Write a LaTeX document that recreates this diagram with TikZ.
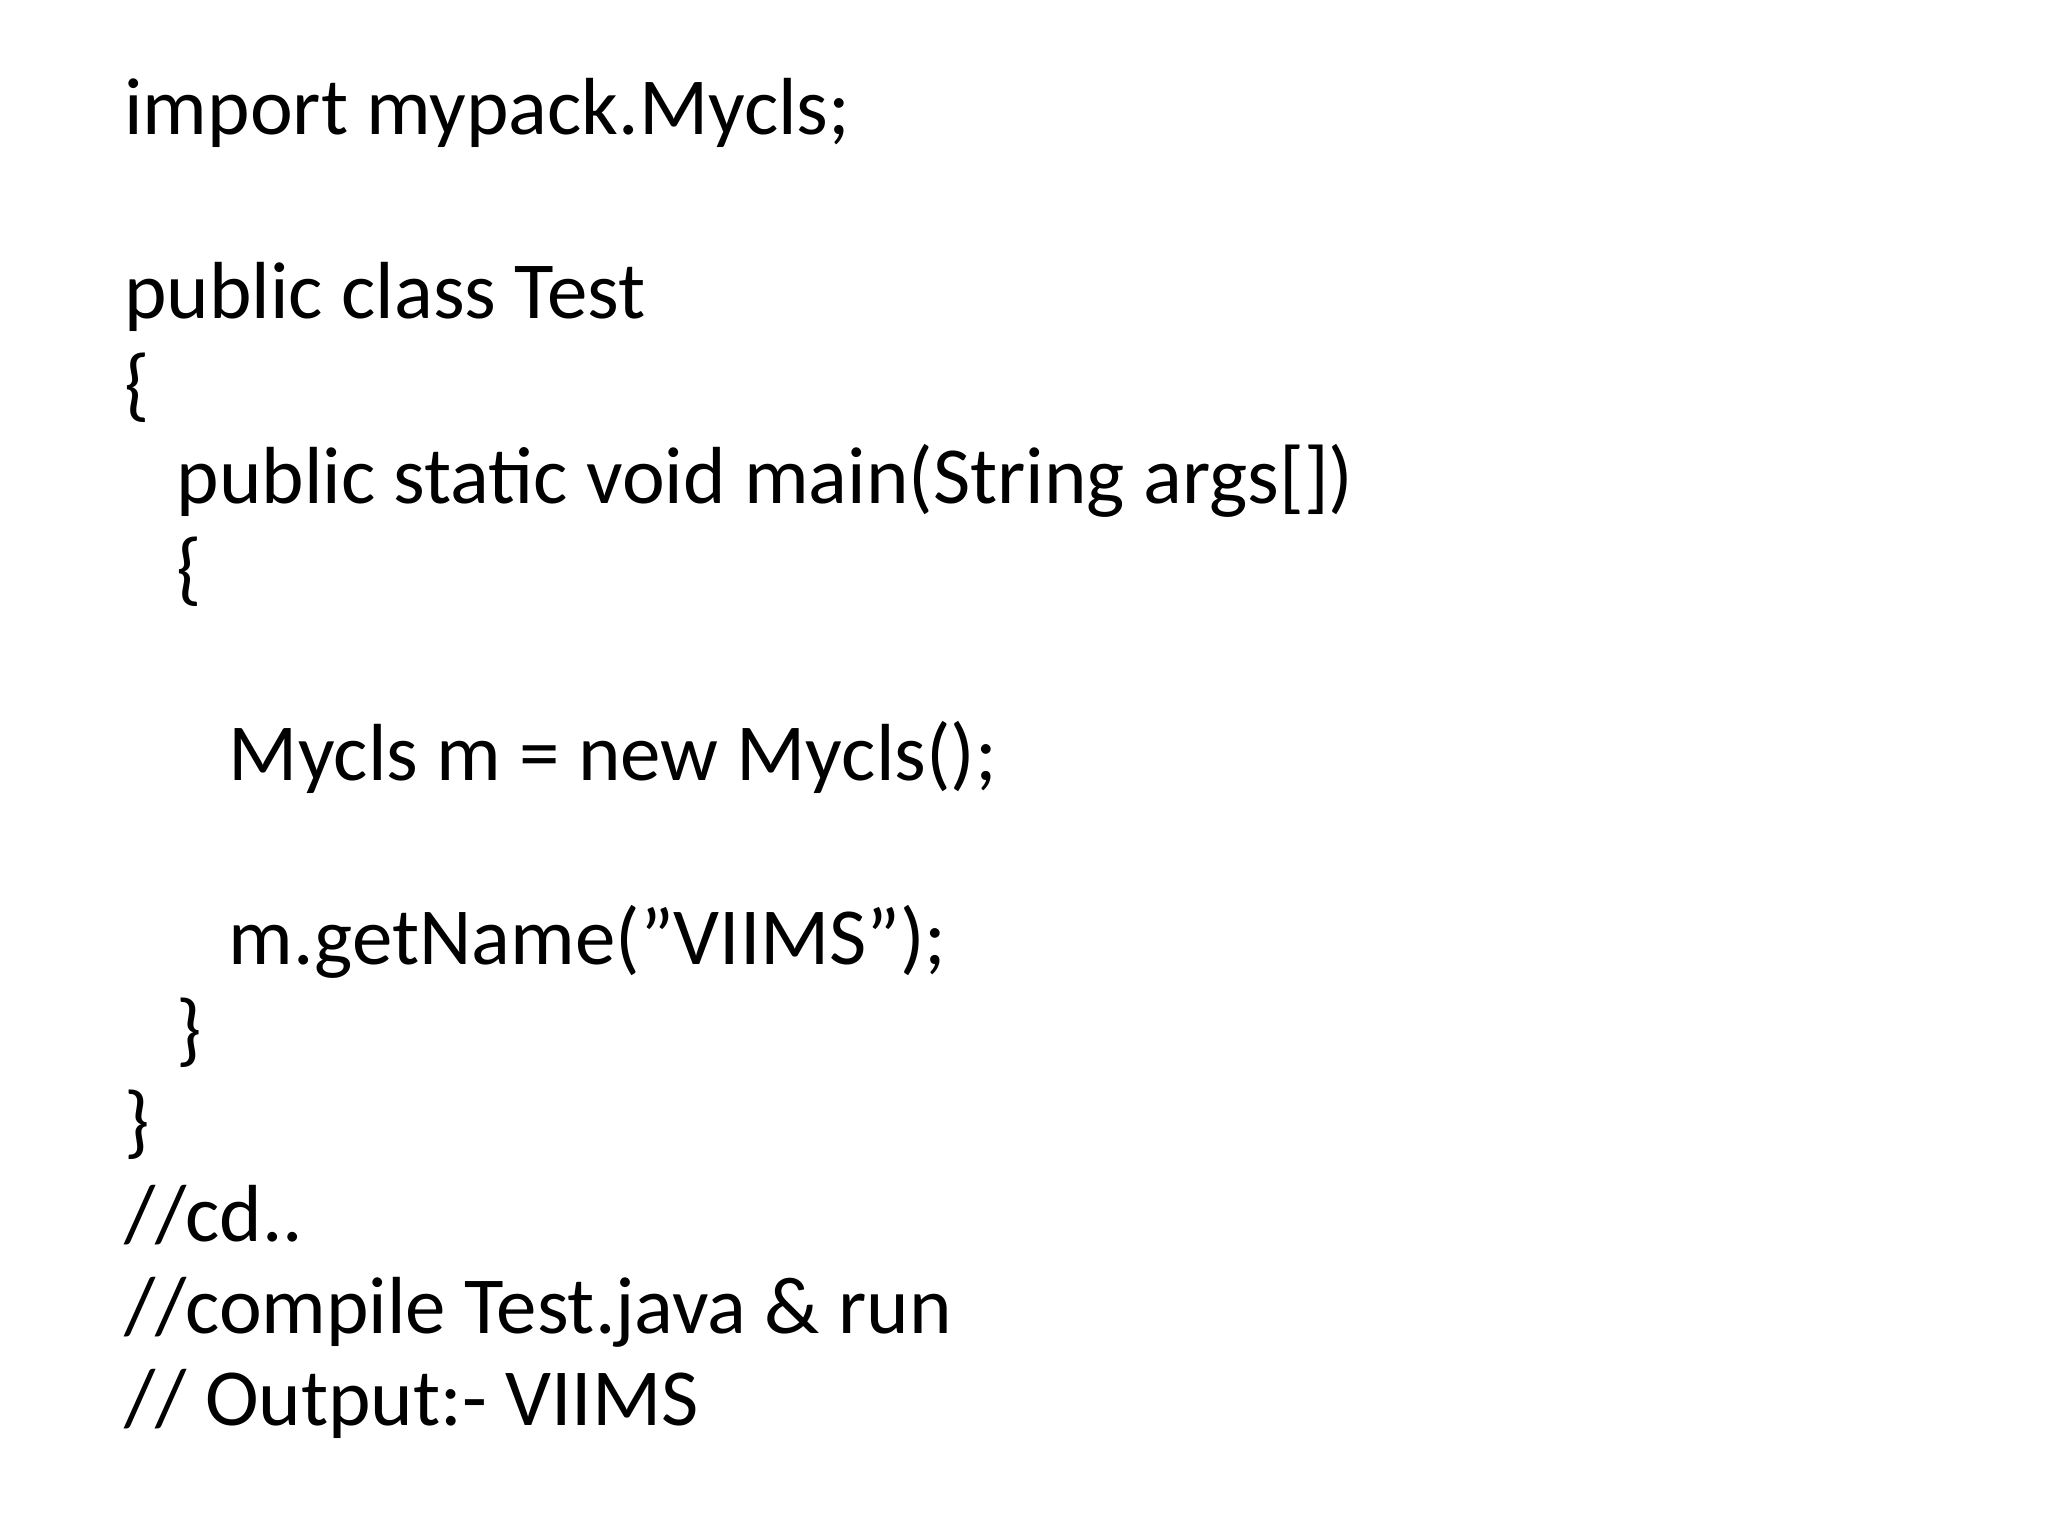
\documentclass[tikz,border=0pt]{standalone}
\usepackage{fontspec}
\setmainfont{Carlito}
\begin{document}
\begin{tikzpicture}[x=1pt,y=-1pt,every node/.style={anchor=base west,inner sep=0pt,font=\fontsize{62}{70}\selectfont}]
\useasboundingbox[fill=white] (0,0) rectangle (1568,1176);
\def\L#1{103+70.6*#1}
\node (l0) at (95,{\L{0}}) {import mypack.Mycls;};
\node (l2) at (95,{\L{2}}) {public class Test};
\node (l3) at (95,{\L{3}}) {\{};
\node (l4) at (135,{\L{4}}) {public static void main(String args[])};
\node (l5) at (135,{\L{5}}) {\{};
\node (l7) at (175,{\L{7}}) {Mycls m = new Mycls();};
\node (l9) at (175,{\L{9}}) {m.getName("VIIMS");};
\node (l10) at (135,{\L{10}}) {\}};
\node (l11) at (95,{\L{11}}) {\}};
\node (l12) at (95,{\L{12}}) {//cd..};
\node (l13) at (95,{\L{13}}) {//compile Test.java \& run};
\node (l14) at (95,{\L{14}}) {// Output:- VIIMS};
\end{tikzpicture}
\end{document}
